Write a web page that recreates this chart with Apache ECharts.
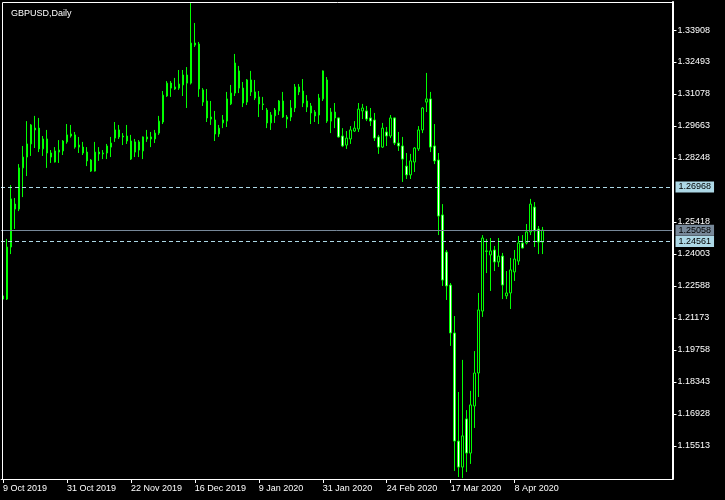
<!DOCTYPE html>
<html><head><meta charset="utf-8">
<script src="https://cdn.jsdelivr.net/npm/echarts@6.0.0/dist/echarts.min.js"></script>
<style>html,body{margin:0;padding:0;background:#000;}#c{width:725px;height:500px;}</style>
</head><body><div id="c"></div>
<script>
const symbolName = 'GBPUSD,Daily';
const openP = [1.2201,1.2201,1.2431,1.2621,1.2599,1.2781,1.2829,1.2887,1.2957,1.2957,
1.2865,1.2909,1.2847,1.2807,1.2851,1.2856,1.2896,1.2931,1.2927,1.2882,
1.2873,1.2851,1.2816,1.2767,1.2851,1.2843,1.2847,1.2873,1.2913,1.2949,
1.2922,1.2922,1.2900,1.2851,1.2896,1.2856,1.2918,1.2909,1.2909,1.2935,
1.2984,1.3099,1.3156,1.3139,1.3134,1.3148,1.3192,1.3156,1.3333,1.3329,
1.3126,1.3077,1.3006,1.2993,1.2931,1.2980,1.2988,1.3064,1.3112,1.3210,
1.3134,1.3072,1.3170,1.3117,1.3095,1.3064,1.3037,1.2980,1.3011,1.3033,
1.3077,1.3006,1.3006,1.3046,1.3139,1.3121,1.3077,1.3055,1.3028,1.3015,
1.3086,1.3170,1.2988,1.3028,1.3002,1.2922,1.2882,1.2909,1.2944,1.2953,
1.3033,1.3033,1.3002,1.2993,1.2918,1.2873,1.2940,1.2922,1.3002,1.2891,
1.2878,1.2789,1.2750,1.2807,1.2865,1.2949,1.3072,1.3086,1.2878,1.2816,
1.2573,1.2409,1.2263,1.2051,1.1573,1.1458,1.1671,1.1520,1.1728,1.1874,
1.2148,1.2414,1.2396,1.2418,1.2365,1.2391,1.2215,1.2228,1.2321,1.2369,
1.2449,1.2449,1.2498,1.2608,1.2511,1.2453];
const closeP = [1.2215,1.2431,1.2644,1.2599,1.2781,1.2829,1.2887,1.2971,1.2949,1.2865,
1.2909,1.2847,1.2829,1.2856,1.2860,1.2900,1.2927,1.2922,1.2873,1.2873,
1.2847,1.2812,1.2767,1.2851,1.2843,1.2847,1.2878,1.2891,1.2949,1.2918,
1.2918,1.2900,1.2820,1.2896,1.2860,1.2918,1.2909,1.2918,1.2935,1.2988,
1.3103,1.3156,1.3134,1.3130,1.3152,1.3192,1.3156,1.3333,1.3324,1.3130,
1.3072,1.3002,1.2997,1.2931,1.2957,1.2993,1.3086,1.3112,1.3245,1.3134,
1.3068,1.3170,1.3117,1.3090,1.3064,1.3061,1.2980,1.3015,1.3037,1.3077,
1.3006,1.2997,1.3046,1.3139,1.3117,1.3068,1.3050,1.3024,1.3011,1.3090,
1.3210,1.2988,1.3028,1.3002,1.2918,1.2878,1.2913,1.2949,1.2957,1.3041,
1.3046,1.2997,1.2988,1.2913,1.2873,1.2957,1.2922,1.3002,1.2891,1.2878,
1.2820,1.2750,1.2812,1.2869,1.2949,1.3046,1.3086,1.2873,1.2812,1.2568,
1.2285,1.2259,1.2051,1.1573,1.1458,1.1596,1.1520,1.1733,1.1874,1.2153,
1.2471,1.2412,1.2414,1.2365,1.2391,1.2263,1.2228,1.2330,1.2378,1.2449,
1.2427,1.2498,1.2621,1.2502,1.2453,1.2506];
const lowP = [1.2193,1.2197,1.2400,1.2511,1.2590,1.2652,1.2745,1.2834,1.2869,1.2851,
1.2834,1.2781,1.2803,1.2805,1.2803,1.2838,1.2888,1.2915,1.2866,1.2847,
1.2838,1.2789,1.2763,1.2765,1.2812,1.2820,1.2820,1.2829,1.2896,1.2909,
1.2882,1.2887,1.2816,1.2829,1.2829,1.2820,1.2896,1.2873,1.2891,1.2927,
1.2975,1.3095,1.3095,1.3126,1.3126,1.3099,1.3046,1.3150,1.3316,1.3095,
1.3055,1.2984,1.2971,1.2900,1.2918,1.2957,1.2962,1.3059,1.3099,1.3112,
1.3050,1.3059,1.3099,1.3081,1.3006,1.3037,1.2957,1.2949,1.2980,1.3015,
1.3002,1.2957,1.2988,1.3028,1.3103,1.3050,1.3028,1.2975,1.2984,1.2975,
1.3077,1.2980,1.2935,1.2957,1.2915,1.2873,1.2865,1.2887,1.2940,1.2940,
1.2997,1.2988,1.2966,1.2900,1.2843,1.2869,1.2878,1.2913,1.2882,1.2856,
1.2719,1.2732,1.2732,1.2763,1.2856,1.2935,1.3028,1.2851,1.2798,1.2484,
1.2259,1.2197,1.1994,1.1441,1.1414,1.1409,1.1436,1.1472,1.1631,1.1768,
1.2122,1.2316,1.2237,1.2325,1.2343,1.2201,1.2201,1.2157,1.2281,1.2352,
1.2425,1.2443,1.2484,1.2431,1.2400,1.2400];
const highP = [1.2232,1.2467,1.2705,1.2648,1.2798,1.2878,1.2988,1.2975,1.3011,1.3002,
1.2922,1.2949,1.2860,1.2873,1.2904,1.2904,1.2975,1.2971,1.2940,1.2918,
1.2896,1.2873,1.2820,1.2896,1.2873,1.2860,1.2887,1.2918,1.2984,1.2971,
1.2935,1.2971,1.2927,1.2909,1.2904,1.2920,1.2949,1.2940,1.2949,1.3011,
1.3121,1.3165,1.3165,1.3179,1.3214,1.3214,1.3227,1.3510,1.3422,1.3338,
1.3134,1.3130,1.3077,1.3033,1.2971,1.3015,1.3117,1.3148,1.3285,1.3232,
1.3161,1.3174,1.3210,1.3170,1.3121,1.3095,1.3046,1.3028,1.3046,1.3081,
1.3117,1.3015,1.3081,1.3152,1.3152,1.3174,1.3103,1.3068,1.3037,1.3108,
1.3212,1.3183,1.3046,1.3068,1.3004,1.2957,1.2944,1.2966,1.2988,1.3068,
1.3064,1.3055,1.3046,1.3024,1.2927,1.2980,1.2962,1.3015,1.3004,1.2940,
1.2918,1.2847,1.2843,1.2873,1.2966,1.3050,1.3201,1.3117,1.2975,1.2847,
1.2621,1.2418,1.2272,1.2126,1.1790,1.1932,1.1710,1.1795,1.1971,1.2228,
1.2484,1.2467,1.2471,1.2436,1.2471,1.2405,1.2325,1.2383,1.2418,1.2480,
1.2484,1.2533,1.2644,1.2630,1.2524,1.2520];
const priceTicks = [1.15513,1.16928,1.18343,1.19758,1.21173,1.22588,1.24003,1.25418,1.28248,1.29663,1.31078,1.32493,1.33908];
const levelUpper = 1.26968;
const levelBid = 1.25058;
const levelLower = 1.24561;
const holidays = ['2019-12-25','2020-01-01'];
const monthNames = ['Jan','Feb','Mar','Apr','May','Jun','Jul','Aug','Sep','Oct','Nov','Dec'];
const labelEvery = 16;
const lastLabelIndex = 128;
const totalSlots = 168;

const cats = [];
let d = new Date(Date.UTC(2019, 9, 9));
while (cats.length < totalSlots) {
  const wd = d.getUTCDay();
  const iso = d.toISOString().slice(0, 10);
  if (wd !== 0 && wd !== 6 && !holidays.includes(iso)) {
    cats.push(d.getUTCDate() + ' ' + monthNames[d.getUTCMonth()] + ' ' + d.getUTCFullYear());
  }
  d = new Date(d.getTime() + 86400000);
}
const candles = openP.map((o, i) => [o, closeP[i], lowP[i], highP[i]]);
const FONT = 'Liberation Sans, Arial, sans-serif';
const showIdx = (i) => i % labelEvery === 0 && i <= lastLabelIndex;

const chart = echarts.init(document.getElementById('c'), null, {renderer: 'canvas'});
chart.setOption({
  backgroundColor: '#000',
  animation: false,
  title: {text: symbolName, left: 6, top: 4, textStyle: {color: '#fff', fontSize: 9, fontWeight: 'normal', fontFamily: FONT}},
  grid: {left: 0.5, right: 52.5, top: 2, bottom: 21},
  graphic: [{type: 'rect', silent: true, z: 100, shape: {x: 2.5, y: 2.5, width: 670, height: 477},
    style: {fill: 'none', stroke: '#fff', lineWidth: 1}}],
  xAxis: {
    type: 'category', data: cats, boundaryGap: true,
    axisLine: {show: true, lineStyle: {color: '#fff', width: 1}},
    axisTick: {show: true, alignWithLabel: true, interval: showIdx, length: 4, lineStyle: {color: '#fff'}},
    axisLabel: {interval: showIdx, align: 'left', color: '#fff', fontSize: 9, fontFamily: FONT, margin: 5},
    splitLine: {show: false}
  },
  yAxis: {
    type: 'value', position: 'right', min: 1.14053, max: 1.35147,
    axisLine: {show: true, lineStyle: {color: '#fff', width: 2}},
    axisTick: {show: true, customValues: priceTicks, length: 4, lineStyle: {color: '#fff'}},
    axisLabel: {customValues: priceTicks, formatter: v => v.toFixed(5), color: '#fff', fontSize: 9, fontFamily: FONT, margin: 5},
    splitLine: {show: false}
  },
  series: [{
    type: 'candlestick', data: candles, barWidth: 2, silent: true,
    itemStyle: {color: '#000', color0: '#fff', borderColor: '#00ff00', borderColor0: '#00ff00', borderColorDoji: '#00ff00', borderWidth: 1},
    markLine: {
      silent: true, symbol: ['none', 'none'], animation: false, precision: 5,
      label: {show: true, position: 'end', distance: 3, formatter: p => Number(p.value).toFixed(5), color: '#000',
        fontSize: 9, fontFamily: FONT, padding: [1, 3, 1, 3]},
      data: [
        {yAxis: levelUpper, lineStyle: {color: '#add8e6', type: [4, 3], width: 1}, label: {backgroundColor: '#add8e6'}},
        {yAxis: levelBid, lineStyle: {color: '#778899', type: 'solid', width: 1}, label: {backgroundColor: '#778899'}},
        {yAxis: levelLower, lineStyle: {color: '#add8e6', type: [4, 3], width: 1}, label: {backgroundColor: '#add8e6'}}
      ]
    }
  }]
});
</script></body></html>
